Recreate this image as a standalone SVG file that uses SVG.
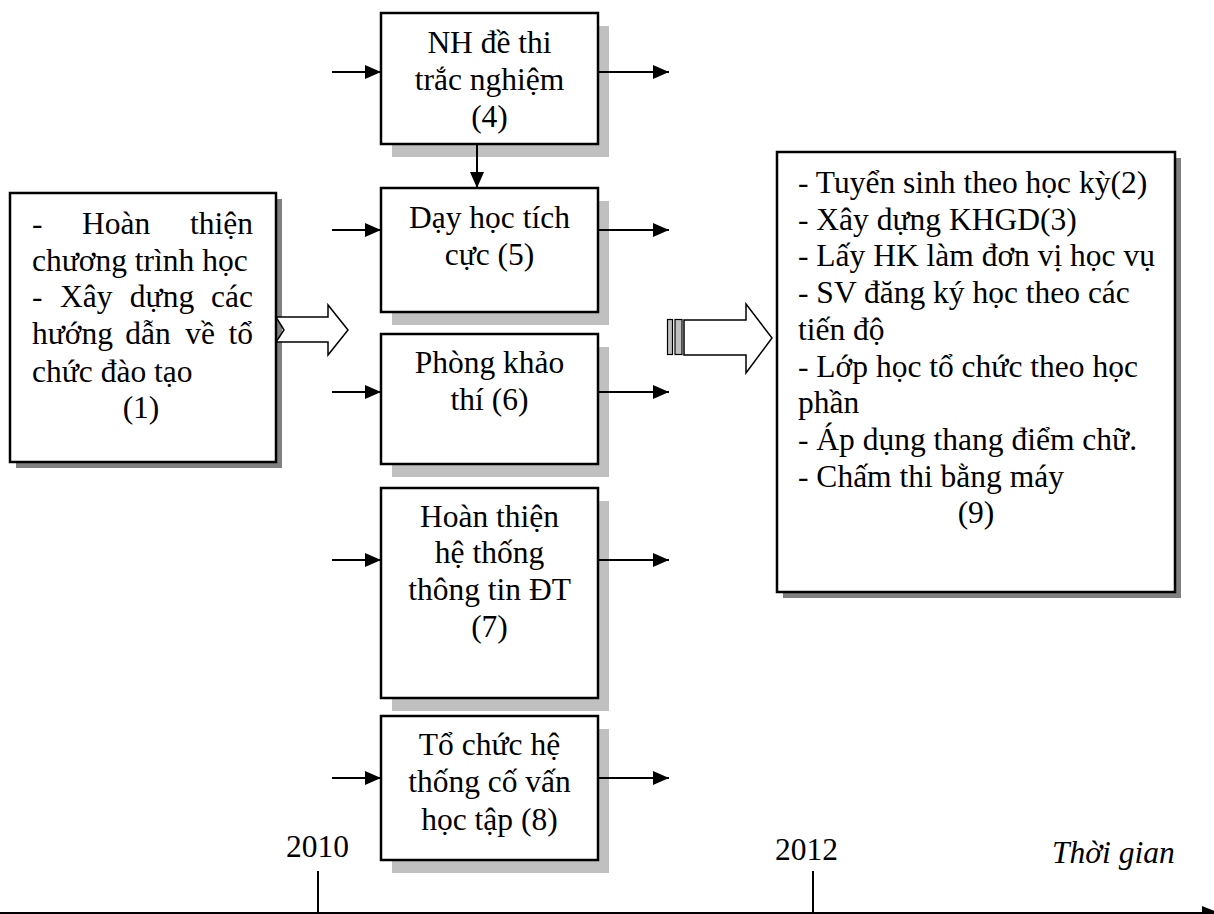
<svg xmlns="http://www.w3.org/2000/svg" width="1214" height="914" viewBox="0 0 1214 914">
<defs>
<marker id="ah" markerUnits="userSpaceOnUse" markerWidth="16" markerHeight="14" refX="16" refY="7" orient="auto">
<path d="M0,0 L16,7 L0,14 z" fill="#000"/>
</marker>
</defs>
<style>
text{font-family:"Liberation Serif","Times New Roman",serif;font-size:31.5px;fill:#000}
.c{text-anchor:middle}
.e{text-anchor:end}
.it{font-style:italic}
.box{fill:#fff;stroke:#000;stroke-width:2.5}
.sh{fill:#c0c0c0}
.shd{fill:#808080}
.ln{stroke:#000;stroke-width:2;fill:none}
.hol{fill:#fff;stroke:#000;stroke-width:1.5}
</style>
<rect width="1214" height="914" fill="#fff"/>

<g id="node1">
<rect class="shd" x="16" y="199" width="266" height="269"/>
<rect class="box" x="10" y="193" width="266" height="269"/>
<text x="32" y="234">-</text><text x="82" y="234">Hoàn</text><text class="e" x="253" y="234">thiện</text>
<text x="32" y="271">chương trình học</text>
<text x="32" y="307">-</text><text x="60" y="307">Xây</text><text class="c" x="162" y="307">dựng</text><text class="e" x="253" y="307">các</text>
<text x="32" y="344">hướng</text><text class="c" x="148" y="344">dẫn</text><text class="c" x="200" y="344">về</text><text class="e" x="253" y="344">tổ</text>
<text x="32" y="382">chức đào tạo</text>
<text class="c" x="141" y="418">(1)</text>
</g>

<g id="hollow-arrow-1">
<polygon class="hol" points="276,317 328,317 328,305 348,330 328,355 328,342 276,342 284,330"/>
</g>

<g id="node4">
<rect class="sh" x="392" y="26" width="217" height="131"/>
<rect class="box" x="381" y="13" width="217" height="131"/>
<text class="c" x="489.5" y="53">NH đề thi</text>
<text class="c" x="489.5" y="90">trắc nghiệm</text>
<text class="c" x="489.5" y="127">(4)</text>
</g>

<g id="node5">
<rect class="sh" x="392" y="201" width="217" height="124"/>
<rect class="box" x="381" y="188" width="217" height="124"/>
<text class="c" x="489.5" y="228">Dạy học tích</text>
<text class="c" x="489.5" y="265">cực (5)</text>
</g>

<g id="node6">
<rect class="sh" x="392" y="347" width="217" height="130"/>
<rect class="box" x="381" y="334" width="217" height="130"/>
<text class="c" x="489.5" y="373">Phòng khảo</text>
<text class="c" x="489.5" y="410">thí (6)</text>
</g>

<g id="node7">
<rect class="sh" x="392" y="501" width="217" height="210"/>
<rect class="box" x="381" y="488" width="217" height="210"/>
<text class="c" x="489.5" y="527">Hoàn thiện</text>
<text class="c" x="489.5" y="563">hệ thống</text>
<text class="c" x="489.5" y="600">thông tin ĐT</text>
<text class="c" x="489.5" y="637">(7)</text>
</g>

<g id="node8">
<rect class="sh" x="392" y="729" width="217" height="144"/>
<rect class="box" x="381" y="716" width="217" height="144"/>
<text class="c" x="489.5" y="755">Tổ chức hệ</text>
<text class="c" x="489.5" y="792">thống cố vấn</text>
<text class="c" x="489.5" y="830">học tập (8)</text>
</g>

<g id="striped-arrow">
<rect x="667.5" y="319.5" width="5" height="35" fill="#c0c0c0" stroke="#000" stroke-width="1.2"/>
<rect x="675" y="319.5" width="7" height="35" fill="#c0c0c0" stroke="#000" stroke-width="1.2"/>
<polygon class="hol" points="684,320 746,320 746,304 772,338 746,373 746,355 684,355"/>
</g>

<g id="node9">
<rect class="shd" x="783" y="158" width="398" height="440"/>
<rect class="box" x="777" y="152" width="398" height="440"/>
<text x="798" y="193">- Tuyển sinh theo học kỳ(2)</text>
<text x="798" y="229.7">- Xây dựng KHGD(3)</text>
<text x="798" y="266.4">- Lấy HK làm đơn vị học vụ</text>
<text x="798" y="303.1">- SV đăng ký học theo các</text>
<text x="798" y="339.8">tiến độ</text>
<text x="798" y="376.5">- Lớp học tổ chức theo học</text>
<text x="798" y="413.2">phần</text>
<text x="798" y="449.9">- Áp dụng thang điểm chữ.</text>
<text x="798" y="486.6">- Chấm thi bằng máy</text>
<text class="c" x="976" y="523.3">(9)</text>
</g>

<g id="connectors">
<line class="ln" x1="332" y1="72" x2="381" y2="72" marker-end="url(#ah)"/>
<line class="ln" x1="598" y1="72" x2="669" y2="72" marker-end="url(#ah)"/>
<line class="ln" x1="477" y1="144" x2="477" y2="188" marker-end="url(#ah)"/>
<line class="ln" x1="332" y1="230" x2="381" y2="230" marker-end="url(#ah)"/>
<line class="ln" x1="598" y1="230" x2="669" y2="230" marker-end="url(#ah)"/>
<line class="ln" x1="332" y1="392" x2="381" y2="392" marker-end="url(#ah)"/>
<line class="ln" x1="598" y1="392" x2="669" y2="392" marker-end="url(#ah)"/>
<line class="ln" x1="332" y1="560" x2="381" y2="560" marker-end="url(#ah)"/>
<line class="ln" x1="598" y1="560" x2="669" y2="560" marker-end="url(#ah)"/>
<line class="ln" x1="332" y1="778" x2="381" y2="778" marker-end="url(#ah)"/>
<line class="ln" x1="598" y1="778" x2="669" y2="778" marker-end="url(#ah)"/>
</g>

<g id="timeline">
<line class="ln" x1="0" y1="913" x2="1206" y2="913"/>
<polygon points="1202,906 1220,913 1202,920" fill="#000"/>
<line class="ln" x1="318" y1="871" x2="318" y2="913"/>
<line class="ln" x1="813" y1="871" x2="813" y2="913"/>
<text x="286" y="857">2010</text>
<text x="775" y="860">2012</text>
<text class="it" x="1052" y="863">Thời gian</text>
</g>
</svg>
